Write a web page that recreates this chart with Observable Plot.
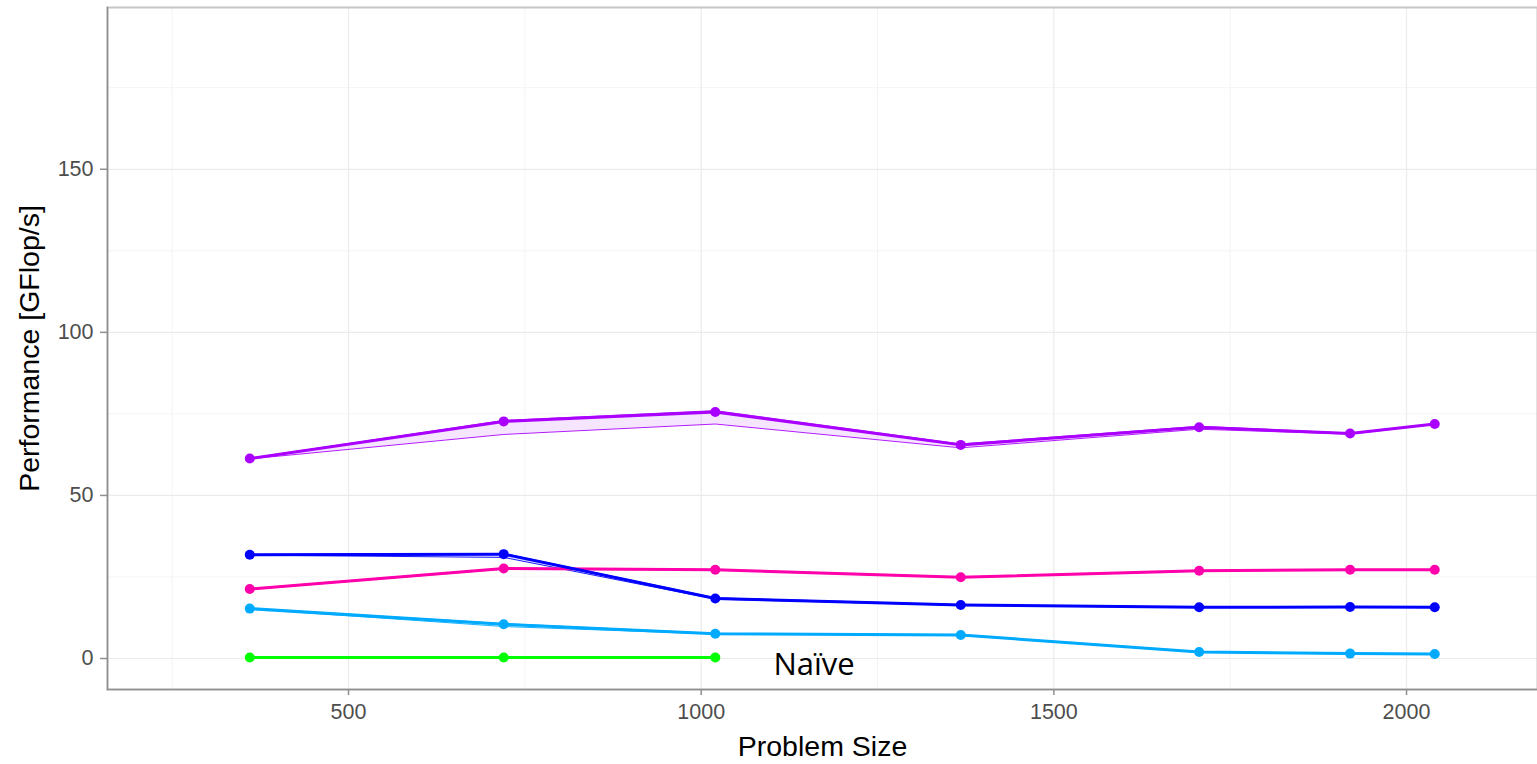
<!DOCTYPE html>
<html>
<head>
<meta charset="utf-8">
<script src="https://cdn.jsdelivr.net/npm/d3@7"></script>
<script src="https://cdn.jsdelivr.net/npm/@observablehq/plot@0.6"></script>
<style>
  html, body { margin: 0; padding: 0; background: #fff; overflow: hidden; }
  #chart svg { display: block; }
</style>
</head>
<body>
<div id="chart"></div>
<script>
// ---- data ----
const problemSizes = [360, 720, 1020, 1368, 1706, 1920, 2040];

const seriesNames  = ["Variant A", "Variant B", "Variant C", "Variant D", "Naïve"];
const seriesColors = ["#aa00ff", "#ff00aa", "#0000ff", "#00aaff", "#00ff00"];

const purpleMean = [61.3, 72.7, 75.6, 65.5, 70.9, 69.0, 71.9];
const purpleMin  = [61.2, 68.7, 71.9, 64.6, 70.3, 68.8, 71.8];
const purpleMax  = [61.4, 73.0, 76.0, 65.8, 71.2, 69.1, 72.0];

const pinkMean = [21.3, 27.6, 27.2, 24.9, 26.9, 27.2, 27.2];
const pinkMin  = [21.2, 27.4, 27.1, 24.8, 26.8, 27.1, 27.1];
const pinkMax  = [21.4, 27.7, 27.3, 25.0, 27.0, 27.3, 27.3];

const blueMean = [31.8, 32.0, 18.4, 16.4, 15.7, 15.8, 15.7];
const blueMin  = [31.7, 31.0, 18.2, 16.3, 15.6, 15.7, 15.6];
const blueMax  = [31.9, 32.2, 18.6, 16.5, 15.8, 15.9, 15.8];

const lightBlueMean = [15.3, 10.5, 7.6, 7.2, 2.0, 1.5, 1.4];
const lightBlueMin  = [15.2, 9.8, 7.5, 7.1, 1.9, 1.4, 1.3];
const lightBlueMax  = [15.4, 10.7, 7.7, 7.3, 2.1, 1.6, 1.5];

const naiveMean = [0.3, 0.3, 0.3];
const naiveMin  = [0.25, 0.25, 0.25];
const naiveMax  = [0.35, 0.35, 0.35];

const xMajorTicks = [500, 1000, 1500, 2000];
const xMinorTicks = [250, 750, 1250, 1750];
const yMajorTicks = [0, 50, 100, 150];
const yMinorTicks = [25, 75, 125, 175];

const xTitle = "Problem Size";
const yTitle = "Performance [GFlop/s]";

const annotationText = ["Naïve"];
const annotationX = [1160];
const annotationY = [-1.9];

// ---- build the long table ----
const seriesData = [
  [purpleMean, purpleMin, purpleMax],
  [pinkMean, pinkMin, pinkMax],
  [blueMean, blueMin, blueMax],
  [lightBlueMean, lightBlueMin, lightBlueMax],
  [naiveMean, naiveMin, naiveMax]
];
const rows = [];
seriesData.forEach(([mean, lo, hi], i) => {
  mean.forEach((v, j) => rows.push({
    series: seriesNames[i], size: problemSizes[j], mean: v, min: lo[j], max: hi[j]
  }));
});
const annotations = annotationText.map((t, i) => ({text: t, x: annotationX[i], y: annotationY[i]}));

const chart = Plot.plot({
  width: 1537,
  height: 764,
  marginLeft: 107,
  marginRight: 0,
  marginTop: 7,
  marginBottom: 75,
  style: {fontFamily: "'Liberation Sans', Arial, sans-serif", background: "#fff"},
  x: {domain: [158.3, 2185.7]},
  y: {domain: [-9.5, 199.6]},
  color: {domain: seriesNames, range: seriesColors},
  marks: [
    Plot.ruleY(yMinorTicks, {stroke: "#f4f4f4", strokeWidth: 1}),
    Plot.ruleX(xMinorTicks, {stroke: "#f4f4f4", strokeWidth: 1}),
    Plot.ruleY(yMajorTicks, {stroke: "#ebebeb", strokeWidth: 1.2}),
    Plot.ruleX(xMajorTicks, {stroke: "#ebebeb", strokeWidth: 1.2}),
    Plot.frame({stroke: "#c6c6c6", strokeWidth: 2}),
    Plot.frame({anchor: "left", stroke: "#8f8f8f", strokeWidth: 1.5}),
    Plot.frame({anchor: "bottom", stroke: "#8f8f8f", strokeWidth: 1.5}),
    Plot.areaY(rows, {x: "size", y1: "min", y2: "max", z: "series", fill: "series", fillOpacity: 0.1}),
    Plot.lineY(rows, {x: "size", y: "min", z: "series", stroke: "series", strokeWidth: 1, strokeOpacity: 0.9}),
    Plot.lineY(rows, {x: "size", y: "max", z: "series", stroke: "series", strokeWidth: 1, strokeOpacity: 0.9}),
    Plot.lineY(rows, {x: "size", y: "mean", z: "series", stroke: "series", strokeWidth: 3}),
    Plot.dot(rows, {x: "size", y: "mean", fill: "series", r: 5}),
    // ticks
    Plot.axisX(xMajorTicks, {tickSize: 6, stroke: "#8f8f8f", strokeWidth: 1.5, text: null}),
    Plot.axisY(yMajorTicks, {tickSize: 7, stroke: "#8f8f8f", strokeWidth: 1.5, text: null}),
    // tick labels
    Plot.text(xMajorTicks, {x: d => d, text: d => String(d), frameAnchor: "bottom", lineAnchor: "middle", dy: 23, fontSize: 21.5, fill: "#4d4d4d"}),
    Plot.text(yMajorTicks, {y: d => d, text: d => String(d), frameAnchor: "left", textAnchor: "end", lineAnchor: "middle", dx: -14, fontSize: 21.5, fill: "#4d4d4d"}),
    // titles
    Plot.text([xTitle], {text: d => d, frameAnchor: "bottom", lineAnchor: "middle", textAnchor: "middle", dy: 57, fontSize: 28.5, fill: "#000"}),
    Plot.text([yTitle], {text: d => d, frameAnchor: "left", lineAnchor: "middle", textAnchor: "middle", dx: -78, rotate: -90, fontSize: 28.5, fill: "#000"}),
    Plot.text(annotations, {x: "x", y: "y", text: "text", fontSize: 31, fontFamily: "'Open Sans', sans-serif", fill: "#000"})
  ]
});
document.getElementById("chart").appendChild(chart);
</script>
</body>
</html>
